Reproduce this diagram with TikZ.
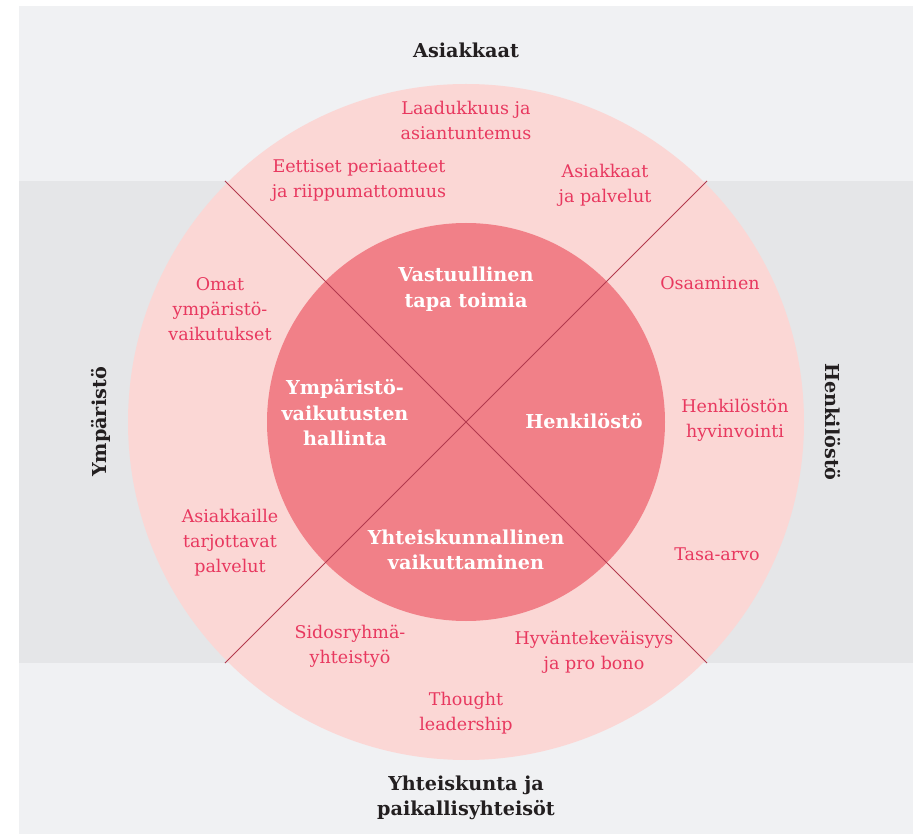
\documentclass[tikz,border=0pt]{standalone}
\usepackage{fontspec}
\setmainfont{DejaVu Serif}

\definecolor{bgLight}{HTML}{F0F1F3}
\definecolor{bgBand}{HTML}{E5E6E8}
\definecolor{ringPink}{HTML}{FBD7D5}
\definecolor{corePink}{HTML}{F18088}
\definecolor{lineRed}{HTML}{B23A4E}
\definecolor{textPink}{HTML}{E8385F}
\definecolor{labelDark}{HTML}{231F20}

\tikzset{
	topic/.style={align=center, inner sep=0pt, text=textPink, font=\fontsize{17.5}{25}\selectfont},
	core/.style={align=center, inner sep=0pt, text=white, font=\fontsize{19.2}{25.5}\selectfont\bfseries},
	group/.style={align=center, inner sep=0pt, text=labelDark, font=\fontsize{19.2}{25.5}\selectfont\bfseries},
}

\begin{document}
\begin{tikzpicture}[x=1pt, y=-1pt]
	\useasboundingbox (0,0) rectangle (919,834);
	\fill[white] (0,0) rectangle (919,834);
	\fill[bgLight] (19,6) rectangle (913,834);
	\fill[bgBand] (19,181) rectangle (913,663);

	\coordinate (C) at (466,422);
	\fill[ringPink] (C) circle (338);
	\fill[corePink] (C) circle (199);

	\coordinate (NW) at (225,181);
	\coordinate (SE) at (707,663);
	\coordinate (NE) at (707,181);
	\coordinate (SW) at (225,663);
	\draw[lineRed, line width=1pt] (NW) -- (SE);
	\draw[lineRed, line width=1pt] (NE) -- (SW);

	\node[group] (Asiakkaat) at (466,50) {Asiakkaat};
	\node[group, rotate=90] (Ymparisto) at (101,422) {Ympäristö};
	\node[group, rotate=-90] (Henkilosto) at (833,422) {Henkilöstö};
	\node[group] (Yhteiskunta) at (466,798) {Yhteiskunta ja\\paikallisyhteisöt};

	\node[core] (Vastuu) at (466,289) {Vastuullinen\\tapa toimia};
	\node[core] (Ymp) at (345,413) {Ympäristö-\\vaikutusten\\hallinta};
	\node[core] (Henk) at (584,421) {Henkilöstö};
	\node[core] (Yhteis) at (466,550) {Yhteiskunnallinen\\vaikuttaminen};

	\node[topic] (Laatu) at (466,120) {Laadukkuus ja\\asiantuntemus};
	\node[topic] (Etiikka) at (359,181) {Eettiset periaatteet\\ja riippumattomuus};
	\node[topic] (Palvelut) at (605,185) {Asiakkaat\\ja palvelut};
	\node[topic] (Omat) at (220,309) {Omat\\ympäristö-\\vaikutukset};
	\node[topic] (Tarjonta) at (230,543) {Asiakkaille\\tarjottavat\\palvelut};
	\node[topic] (Osaaminen) at (710,283) {Osaaminen};
	\node[topic] (Hyvinvointi) at (735,420) {Henkilöstön\\hyvinvointi};
	\node[topic] (Tasa) at (717,554) {Tasa-arvo};
	\node[topic] (Sidos) at (350,646) {Sidosryhmä-\\yhteistyö};
	\node[topic] (Hyvan) at (594,652) {Hyväntekeväisyys\\ja pro bono};
	\node[topic] (Thought) at (466,713) {Thought\\leadership};
\end{tikzpicture}
\end{document}
